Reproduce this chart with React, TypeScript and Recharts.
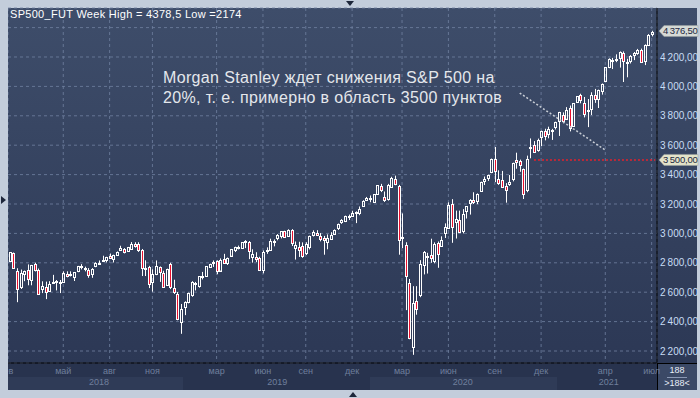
import React from "react";
import { Bar, CartesianGrid, ComposedChart, ReferenceLine, XAxis, YAxis } from "recharts";

// [week, open, high, low, close]
type Row = [string, number, number, number, number];

const w2018: Row[] = [
  ["2018-01-22", 2810, 2872, 2808, 2872], ["2018-01-29", 2867, 2870, 2759, 2762], ["2018-02-05", 2741, 2763, 2532, 2619],
  ["2018-02-12", 2636, 2754, 2622, 2732], ["2018-02-19", 2722, 2747, 2675, 2747], ["2018-02-26", 2754, 2789, 2647, 2691],
  ["2018-03-05", 2681, 2786, 2647, 2786], ["2018-03-12", 2790, 2801, 2741, 2752], ["2018-03-19", 2750, 2761, 2585, 2588],
  ["2018-03-26", 2619, 2674, 2594, 2641], ["2018-04-02", 2633, 2672, 2553, 2604], ["2018-04-09", 2610, 2675, 2605, 2656],
  ["2018-04-16", 2670, 2718, 2660, 2670], ["2018-04-23", 2675, 2683, 2612, 2670], ["2018-04-30", 2668, 2683, 2594, 2663],
  ["2018-05-07", 2672, 2742, 2663, 2728], ["2018-05-14", 2722, 2742, 2701, 2713], ["2018-05-21", 2725, 2742, 2707, 2721],
  ["2018-05-28", 2705, 2736, 2676, 2735], ["2018-06-04", 2741, 2779, 2736, 2779], ["2018-06-11", 2781, 2791, 2755, 2780],
  ["2018-06-18", 2766, 2774, 2742, 2755], ["2018-06-25", 2754, 2764, 2698, 2718], ["2018-07-02", 2726, 2764, 2698, 2760],
  ["2018-07-09", 2775, 2804, 2770, 2801], ["2018-07-16", 2798, 2816, 2790, 2802], ["2018-07-23", 2810, 2848, 2805, 2819],
  ["2018-07-30", 2820, 2841, 2803, 2840], ["2018-08-06", 2844, 2863, 2829, 2833], ["2018-08-13", 2827, 2855, 2802, 2850],
  ["2018-08-20", 2853, 2877, 2849, 2874], ["2018-08-27", 2884, 2916, 2884, 2902], ["2018-09-03", 2896, 2900, 2864, 2872],
  ["2018-09-10", 2881, 2908, 2874, 2905], ["2018-09-17", 2897, 2941, 2887, 2930], ["2018-09-24", 2927, 2940, 2903, 2914],
  ["2018-10-01", 2926, 2940, 2874, 2886], ["2018-10-08", 2886, 2894, 2710, 2767], ["2018-10-15", 2763, 2817, 2710, 2768],
  ["2018-10-22", 2773, 2779, 2628, 2659], ["2018-10-29", 2670, 2756, 2604, 2723], ["2018-11-05", 2726, 2816, 2716, 2781],
  ["2018-11-12", 2773, 2775, 2670, 2736], ["2018-11-19", 2730, 2746, 2631, 2633], ["2018-11-26", 2649, 2760, 2649, 2760],
  ["2018-12-03", 2790, 2800, 2621, 2633], ["2018-12-10", 2631, 2685, 2588, 2600], ["2018-12-17", 2591, 2601, 2409, 2417],
  ["2018-12-24", 2400, 2520, 2317, 2486], ["2018-12-31", 2498, 2538, 2444, 2532],
];

const w2019: Row[] = [
  ["2019-01-07", 2535, 2597, 2524, 2596], ["2019-01-14", 2580, 2675, 2569, 2671], ["2019-01-21", 2657, 2670, 2612, 2665],
  ["2019-01-28", 2644, 2708, 2631, 2707], ["2019-02-04", 2706, 2738, 2687, 2708], ["2019-02-11", 2713, 2776, 2705, 2776],
  ["2019-02-18", 2770, 2794, 2765, 2793], ["2019-02-25", 2805, 2816, 2772, 2804], ["2019-03-04", 2815, 2817, 2722, 2743],
  ["2019-03-11", 2747, 2830, 2747, 2822], ["2019-03-18", 2825, 2861, 2800, 2801], ["2019-03-25", 2797, 2836, 2785, 2834],
  ["2019-04-01", 2848, 2894, 2848, 2893], ["2019-04-08", 2889, 2910, 2873, 2907], ["2019-04-15", 2908, 2917, 2891, 2905],
  ["2019-04-22", 2899, 2940, 2898, 2940], ["2019-04-29", 2940, 2954, 2900, 2946], ["2019-05-06", 2940, 2948, 2825, 2881],
  ["2019-05-13", 2840, 2892, 2801, 2860], ["2019-05-20", 2841, 2872, 2805, 2826], ["2019-05-27", 2830, 2841, 2750, 2752],
  ["2019-06-03", 2752, 2884, 2728, 2873], ["2019-06-10", 2886, 2905, 2861, 2887], ["2019-06-17", 2889, 2964, 2887, 2950],
  ["2019-06-24", 2951, 2959, 2912, 2942], ["2019-07-01", 2971, 2995, 2953, 2990], ["2019-07-08", 2980, 3014, 2966, 3014],
  ["2019-07-15", 3017, 3018, 2970, 2976], ["2019-07-22", 2981, 3028, 2976, 3026], ["2019-07-29", 3024, 3029, 2914, 2932],
  ["2019-08-05", 2898, 2945, 2822, 2919], ["2019-08-12", 2908, 2943, 2840, 2889], ["2019-08-19", 2913, 2939, 2834, 2847],
  ["2019-08-26", 2866, 2940, 2853, 2926], ["2019-09-02", 2910, 2985, 2891, 2979], ["2019-09-09", 2988, 3021, 2979, 3007],
  ["2019-09-16", 3001, 3022, 2993, 2992], ["2019-09-23", 2983, 3002, 2946, 2961], ["2019-09-30", 2968, 2983, 2855, 2952],
  ["2019-10-07", 2944, 2993, 2892, 2970], ["2019-10-14", 2965, 3008, 2955, 2986], ["2019-10-21", 2996, 3027, 2991, 3023],
  ["2019-10-28", 3035, 3067, 3023, 3067], ["2019-11-04", 3078, 3097, 3065, 3093], ["2019-11-11", 3081, 3121, 3077, 3120],
  ["2019-11-18", 3118, 3128, 3091, 3110], ["2019-11-25", 3117, 3154, 3115, 3141], ["2019-12-02", 3144, 3150, 3070, 3146],
  ["2019-12-09", 3141, 3183, 3124, 3169], ["2019-12-16", 3183, 3226, 3183, 3221], ["2019-12-23", 3226, 3248, 3222, 3240],
  ["2019-12-30", 3240, 3258, 3212, 3235],
];

const w2020: Row[] = [
  ["2020-01-06", 3217, 3268, 3213, 3265], ["2020-01-13", 3271, 3329, 3263, 3329], ["2020-01-20", 3321, 3337, 3281, 3295],
  ["2020-01-27", 3247, 3285, 3214, 3225], ["2020-02-03", 3235, 3337, 3223, 3327], ["2020-02-10", 3318, 3385, 3315, 3380],
  ["2020-02-17", 3369, 3393, 3328, 3337], ["2020-02-24", 3320, 3330, 2855, 2954], ["2020-03-02", 2974, 3136, 2900, 2972],
  ["2020-03-09", 2920, 2940, 2478, 2711], ["2020-03-16", 2665, 2690, 2280, 2290], ["2020-03-23", 2224, 2641, 2174, 2526],
  ["2020-03-30", 2540, 2641, 2447, 2489], ["2020-04-06", 2579, 2818, 2566, 2790], ["2020-04-13", 2782, 2880, 2721, 2875],
  ["2020-04-20", 2846, 2868, 2727, 2837], ["2020-04-27", 2855, 2964, 2800, 2830], ["2020-05-04", 2815, 2939, 2797, 2930],
  ["2020-05-11", 2932, 2945, 2766, 2863], ["2020-05-18", 2913, 2980, 2913, 2955], ["2020-05-25", 3004, 3068, 2969, 3044],
  ["2020-06-01", 3038, 3211, 3038, 3193], ["2020-06-08", 3199, 3233, 2936, 3041], ["2020-06-15", 3075, 3155, 2965, 3097],
  ["2020-06-22", 3094, 3155, 3003, 3009], ["2020-06-29", 3018, 3165, 3000, 3130], ["2020-07-06", 3155, 3184, 3101, 3185],
  ["2020-07-13", 3205, 3233, 3128, 3224], ["2020-07-20", 3224, 3280, 3200, 3215], ["2020-07-27", 3219, 3272, 3199, 3271],
  ["2020-08-03", 3288, 3352, 3284, 3351], ["2020-08-10", 3356, 3387, 3329, 3372], ["2020-08-17", 3380, 3399, 3357, 3397],
  ["2020-08-24", 3418, 3509, 3410, 3508], ["2020-08-31", 3507, 3588, 3349, 3426], ["2020-09-07", 3371, 3429, 3330, 3340],
  ["2020-09-14", 3363, 3425, 3322, 3319], ["2020-09-21", 3320, 3342, 3209, 3298], ["2020-09-28", 3333, 3397, 3323, 3348],
  ["2020-10-05", 3367, 3481, 3354, 3477], ["2020-10-12", 3500, 3549, 3440, 3483], ["2020-10-19", 3493, 3502, 3419, 3465],
  ["2020-10-26", 3441, 3441, 3234, 3270], ["2020-11-02", 3296, 3529, 3280, 3509], ["2020-11-09", 3583, 3646, 3511, 3585],
  ["2020-11-16", 3600, 3628, 3552, 3557], ["2020-11-23", 3566, 3645, 3556, 3638], ["2020-11-30", 3654, 3699, 3594, 3699],
  ["2020-12-07", 3694, 3712, 3633, 3663], ["2020-12-14", 3675, 3726, 3647, 3709], ["2020-12-21", 3694, 3711, 3636, 3703],
  ["2020-12-28", 3723, 3760, 3707, 3756],
];

const w2021: Row[] = [
  ["2021-01-04", 3764, 3827, 3663, 3824], ["2021-01-11", 3803, 3823, 3749, 3768], ["2021-01-18", 3781, 3859, 3780, 3841],
  ["2021-01-25", 3851, 3870, 3694, 3714], ["2021-02-01", 3731, 3887, 3725, 3887], ["2021-02-08", 3892, 3934, 3890, 3934],
  ["2021-02-15", 3939, 3950, 3885, 3907], ["2021-02-22", 3885, 3928, 3789, 3811], ["2021-03-01", 3842, 3914, 3723, 3842],
  ["2021-03-08", 3844, 3960, 3805, 3943], ["2021-03-15", 3942, 3983, 3888, 3913], ["2021-03-22", 3916, 3978, 3853, 3975],
  ["2021-03-29", 3969, 4020, 3944, 4019], ["2021-04-05", 4035, 4129, 4034, 4129], ["2021-04-12", 4130, 4191, 4124, 4185],
  ["2021-04-19", 4180, 4194, 4118, 4180], ["2021-04-26", 4185, 4218, 4165, 4181], ["2021-05-03", 4192, 4238, 4128, 4233],
  ["2021-05-10", 4228, 4238, 4030, 4174], ["2021-05-17", 4169, 4188, 4062, 4156], ["2021-05-24", 4170, 4213, 4156, 4204],
  ["2021-05-31", 4216, 4234, 4179, 4230], ["2021-06-07", 4229, 4255, 4215, 4247], ["2021-06-14", 4248, 4257, 4165, 4166],
  ["2021-06-21", 4174, 4286, 4145, 4281], ["2021-06-28", 4285, 4356, 4279, 4352], ["2021-07-05", 4356, 4378.5, 4340, 4370],
];

const emptyWeeks = ["2021-07-12"];

const priceTicks = [2200, 2400, 2600, 2800, 3000, 3200, 3400, 3600, 3800, 4000, 4200, 4400];

const monthTicks: [string, string][] = [
  ["2018-05-07", "май"], ["2018-08-06", "авг"], ["2018-10-29", "ноя"], ["2019-03-04", "мар"],
  ["2019-06-03", "июн"], ["2019-08-26", "сен"], ["2019-11-25", "дек"], ["2020-03-02", "мар"],
  ["2020-06-01", "июн"], ["2020-08-31", "сен"], ["2020-11-30", "дек"], ["2021-04-05", "апр"], ["2021-07-05", "июл"],
];

const yearTicks: [string, string][] = [
  ["2018-07-16", "2018"], ["2019-07-01", "2019"], ["2020-06-29", "2020"], ["2021-04-12", "2021"],
];

const data = [
  ...[...w2018, ...w2019, ...w2020, ...w2021].map(([d, o, h, l, c]) => ({ d, o, h, l, c })),
  ...emptyWeeks.map((d) => ({ d })),
];

const monthName = Object.fromEntries(monthTicks);
const yearName = Object.fromEntries(yearTicks);

const fmtPrice = (v: number) =>
  v === 4400 ? "" : `${Math.floor(v / 1000)}\u2009${String(v % 1000).padStart(3, "0")},00`;

const FONT = '"Liberation Sans", Arial, sans-serif';

const Candle = (props: any) => {
  const { x, y, width, height, payload } = props;
  if (!payload || payload.o == null) return null;
  const { o, h, l, c } = payload;
  const k = h - l > 0 ? height / (h - l) : 0;
  const py = (v: number) => y + (h - v) * k;
  const cx = Math.round(x + width / 2);
  const top = Math.round(py(Math.max(o, c)));
  const bot = Math.max(Math.round(py(Math.min(o, c))), top + 1);
  const up = c >= o;
  return (
    <g>
      <line x1={cx + 0.5} x2={cx + 0.5} y1={y} y2={top} stroke="#fff" />
      <line x1={cx + 0.5} x2={cx + 0.5} y1={bot} y2={y + height} stroke="#fff" />
      <rect x={cx - 0.5} y={top + 0.5} width={2} height={bot - top} fill={up ? "none" : "#e8102e"} stroke="#fff" />
    </g>
  );
};

const tag = (text: string, fill: string) => (p: any) => {
  const vb = p.viewBox;
  const x0 = vb.x + vb.width + 2;
  const yc = vb.y;
  return (
    <g>
      <polygon
        points={`${x0},${yc} ${x0 + 5},${yc - 5.5} ${x0 + 39},${yc - 5.5} ${x0 + 39},${yc + 5.5} ${x0 + 5},${yc + 5.5}`}
        fill={fill}
        stroke="#9aa0a0"
        strokeWidth={0.5}
      />
      <text x={x0 + 4} y={yc} dy="0.35em" fontSize={9.5} letterSpacing={-0.2} fontFamily={FONT} fill="#1c2740">
        {text}
      </text>
    </g>
  );
};

const abs = (s: React.CSSProperties): React.CSSProperties => ({ position: "absolute", ...s });

export default function App() {
  return (
    <div style={abs({ left: 0, top: 0, width: 700, height: 398, background: "#c3cddb", overflow: "hidden", fontFamily: FONT })}>
      <div style={abs({ left: 8, top: 8, width: 689, height: 355, background: "linear-gradient(#3e4d6a, #2c3855)" })} />
      <div style={abs({ left: 8, top: 363, width: 649, height: 27, background: "#28334e" })} />
      <div style={abs({ left: 8, top: 377, width: 175, height: 13, background: "#2f3b57" })} />
      <div style={abs({ left: 370, top: 377, width: 187, height: 13, background: "#2f3b57" })} />
      <div style={abs({ left: 657, top: 363, width: 40, height: 27, background: "#3b4966", borderTop: "1px solid #000", borderLeft: "1px solid #000", boxSizing: "border-box" })} />

      <div style={abs({ left: 0, top: 0 })}>
        <ComposedChart width={700} height={398} data={data} margin={{ top: 8, right: 3, bottom: 8, left: 8 }}>
          <CartesianGrid stroke="#7081a0" strokeDasharray="3 3" strokeOpacity={0.8} />
          <XAxis
            dataKey="d"
            ticks={monthTicks.map((t) => t[0])}
            tickFormatter={(v: string) => monthName[v] ?? ""}
            interval={0}
            height={14}
            tickSize={0}
            tickMargin={5}
            axisLine={{ stroke: "#000" }}
            tick={{ fill: "#6f7f9c", fontSize: 9, fontFamily: FONT }}
            padding={{ left: 0, right: 0 }}
          />
          <XAxis
            xAxisId="yr"
            dataKey="d"
            ticks={yearTicks.map((t) => t[0])}
            tickFormatter={(v: string) => yearName[v] ?? ""}
            interval={0}
            height={13}
            tickSize={0}
            tickMargin={2}
            axisLine={false}
            tick={{ fill: "#6f7f9c", fontSize: 9, fontFamily: FONT }}
          />
          <YAxis
            orientation="right"
            width={40}
            domain={[2118.4, 4533.3]}
            allowDataOverflow
            ticks={priceTicks}
            interval={0}
            tickFormatter={fmtPrice}
            tickSize={0}
            tickMargin={3}
            axisLine={{ stroke: "#000" }}
            tick={{ fill: "#c8dcf4", fontSize: 10, fontFamily: FONT }}
          />
          <Bar dataKey={(r: any) => (r.o == null ? null : [r.l, r.h])} shape={Candle} isAnimationActive={false} />
          <ReferenceLine
            segment={[{ x: "2020-11-16", y: 3500 }, { x: "2021-07-12", y: 3500 }]}
            stroke="#e3202c"
            strokeWidth={1.5}
            strokeDasharray="2 2"
          />
          <ReferenceLine
            segment={[{ x: "2020-10-19", y: 3955 }, { x: "2021-04-05", y: 3567 }]}
            stroke="#c9ced6"
            strokeWidth={1.5}
            strokeDasharray="2 2"
          />
          <ReferenceLine y={4376.5} stroke="none" label={tag("4\u2009376,50", "#d6dad6")} />
          <ReferenceLine y={3500} stroke="none" label={tag("3\u2009500,00", "#e4e3c9")} />
        </ComposedChart>
      </div>

      <div style={abs({ left: 10, top: 8, fontSize: 11, letterSpacing: 0.3, lineHeight: "13px", color: "#fff", whiteSpace: "nowrap" })}>
        SP500_FUT Week High = 4378,5 Low =2174
      </div>
      <div style={abs({ left: 163, top: 68, fontSize: 16, letterSpacing: 0.35, lineHeight: "20px", color: "#e4e7ec", whiteSpace: "nowrap" })}>
        Morgan Stanley ждет снижения S&amp;P 500 на
        <br />
        20%, т. е. примерно в область 3500 пунктов
      </div>
      <div style={abs({ left: 8, top: 366, width: 10, height: 11, overflow: "hidden" })}>
        <span style={abs({ left: -12, top: 0, fontSize: 9, color: "#6f7f9c", whiteSpace: "nowrap" })}>фев</span>
      </div>
      <div style={abs({ left: 657, top: 365, width: 40, textAlign: "center", fontSize: 9, color: "#e8eef8", lineHeight: "11px" })}>
        188
        <div style={{ margin: "1px auto 0", width: 20, borderTop: "1px solid #8a98b4" }} />
        &gt;188&lt;
      </div>

      <div style={abs({ left: 0, top: 0, width: 8, height: 398, background: "#c3cddb" })} />
      <div style={abs({ left: 346, top: 1, width: 0, height: 0, borderLeft: "4px solid transparent", borderRight: "4px solid transparent", borderTop: "5px solid #1d263a" })} />
      <div style={abs({ left: 1, top: 196, width: 0, height: 0, borderTop: "4px solid transparent", borderBottom: "4px solid transparent", borderLeft: "5px solid #1d263a" })} />
      <div style={abs({ left: 349, top: 392, width: 0, height: 0, borderLeft: "4px solid transparent", borderRight: "4px solid transparent", borderBottom: "5px solid #1d263a" })} />
    </div>
  );
}
